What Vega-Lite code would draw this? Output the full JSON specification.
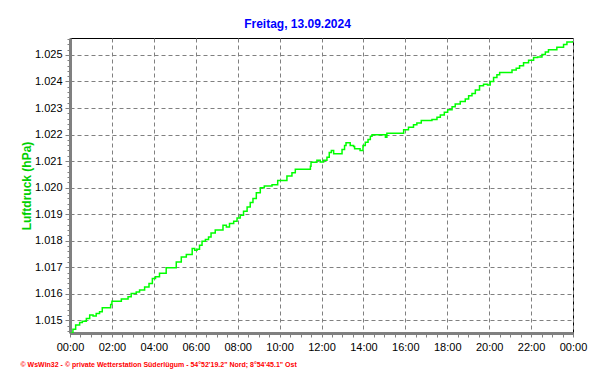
{
  "$schema": "https://vega.github.io/schema/vega-lite/v6.json",
  "width": 503,
  "height": 295,
  "autosize": {"type": "none"},
  "padding": {"left": 70, "top": 38, "right": 19, "bottom": 51},
  "background": "white",
  "config": {
    "view": {"stroke": "black", "strokeWidth": 1},
    "font": "Liberation Sans"
  },
  "title": {
    "text": "Freitag, 13.09.2024",
    "color": "#0000ff",
    "font": "Liberation Sans",
    "fontSize": 12,
    "fontWeight": "bold",
    "anchor": "middle",
    "frame": "group",
    "baseline": "bottom",
    "offset": 9,
    "dx": -24,
    "dy": 19
  },
  "data": {
    "values": [
      {"hour": 0.00, "hPa": 1.01451},
      {"hour": 0.14, "hPa": 1.01466},
      {"hour": 0.27, "hPa": 1.01482},
      {"hour": 0.46, "hPa": 1.01492},
      {"hour": 0.59, "hPa": 1.01497},
      {"hour": 0.78, "hPa": 1.01507},
      {"hour": 0.94, "hPa": 1.01520},
      {"hour": 1.10, "hPa": 1.01516},
      {"hour": 1.25, "hPa": 1.01526},
      {"hour": 1.41, "hPa": 1.01532},
      {"hour": 1.54, "hPa": 1.01547},
      {"hour": 1.89, "hPa": 1.01547},
      {"hour": 1.94, "hPa": 1.01560},
      {"hour": 2.00, "hPa": 1.01572},
      {"hour": 2.37, "hPa": 1.01572},
      {"hour": 2.45, "hPa": 1.01580},
      {"hour": 2.77, "hPa": 1.01589},
      {"hour": 2.92, "hPa": 1.01601},
      {"hour": 3.16, "hPa": 1.01607},
      {"hour": 3.32, "hPa": 1.01614},
      {"hour": 3.56, "hPa": 1.01626},
      {"hour": 3.77, "hPa": 1.01639},
      {"hour": 3.93, "hPa": 1.01658},
      {"hour": 4.08, "hPa": 1.01664},
      {"hour": 4.27, "hPa": 1.01677},
      {"hour": 4.59, "hPa": 1.01698},
      {"hour": 4.91, "hPa": 1.01698},
      {"hour": 5.07, "hPa": 1.01720},
      {"hour": 5.31, "hPa": 1.01739},
      {"hour": 5.55, "hPa": 1.01748},
      {"hour": 5.83, "hPa": 1.01771},
      {"hour": 5.95, "hPa": 1.01764},
      {"hour": 6.06, "hPa": 1.01768},
      {"hour": 6.18, "hPa": 1.01783},
      {"hour": 6.30, "hPa": 1.01798},
      {"hour": 6.46, "hPa": 1.01805},
      {"hour": 6.61, "hPa": 1.01814},
      {"hour": 6.73, "hPa": 1.01829},
      {"hour": 6.93, "hPa": 1.01840},
      {"hour": 7.17, "hPa": 1.01840},
      {"hour": 7.30, "hPa": 1.01858},
      {"hour": 7.46, "hPa": 1.01852},
      {"hour": 7.61, "hPa": 1.01865},
      {"hour": 7.81, "hPa": 1.01873},
      {"hour": 7.97, "hPa": 1.01886},
      {"hour": 8.12, "hPa": 1.01896},
      {"hour": 8.28, "hPa": 1.01911},
      {"hour": 8.45, "hPa": 1.01927},
      {"hour": 8.60, "hPa": 1.01944},
      {"hour": 8.73, "hPa": 1.01959},
      {"hour": 8.89, "hPa": 1.01981},
      {"hour": 9.08, "hPa": 1.02000},
      {"hour": 9.27, "hPa": 1.02006},
      {"hour": 9.64, "hPa": 1.02011},
      {"hour": 9.91, "hPa": 1.02027},
      {"hour": 10.35, "hPa": 1.02044},
      {"hour": 10.59, "hPa": 1.02056},
      {"hour": 10.75, "hPa": 1.02069},
      {"hour": 11.23, "hPa": 1.02069},
      {"hour": 11.47, "hPa": 1.02081},
      {"hour": 11.50, "hPa": 1.02096},
      {"hour": 11.78, "hPa": 1.02103},
      {"hour": 11.94, "hPa": 1.02097},
      {"hour": 12.10, "hPa": 1.02103},
      {"hour": 12.26, "hPa": 1.02115},
      {"hour": 12.37, "hPa": 1.02132},
      {"hour": 12.47, "hPa": 1.02140},
      {"hour": 12.58, "hPa": 1.02128},
      {"hour": 12.90, "hPa": 1.02128},
      {"hour": 12.98, "hPa": 1.02144},
      {"hour": 13.10, "hPa": 1.02159},
      {"hour": 13.17, "hPa": 1.02169},
      {"hour": 13.29, "hPa": 1.02169},
      {"hour": 13.37, "hPa": 1.02159},
      {"hour": 13.53, "hPa": 1.02155},
      {"hour": 13.58, "hPa": 1.02147},
      {"hour": 13.77, "hPa": 1.02147},
      {"hour": 13.84, "hPa": 1.02140},
      {"hour": 13.98, "hPa": 1.02159},
      {"hour": 14.09, "hPa": 1.02171},
      {"hour": 14.22, "hPa": 1.02181},
      {"hour": 14.33, "hPa": 1.02194},
      {"hour": 14.41, "hPa": 1.02199},
      {"hour": 14.89, "hPa": 1.02199},
      {"hour": 15.05, "hPa": 1.02190},
      {"hour": 15.12, "hPa": 1.02205},
      {"hour": 15.76, "hPa": 1.02205},
      {"hour": 15.92, "hPa": 1.02218},
      {"hour": 16.15, "hPa": 1.02228},
      {"hour": 16.39, "hPa": 1.02237},
      {"hour": 16.55, "hPa": 1.02244},
      {"hour": 16.76, "hPa": 1.02253},
      {"hour": 17.27, "hPa": 1.02257},
      {"hour": 17.51, "hPa": 1.02265},
      {"hour": 17.67, "hPa": 1.02274},
      {"hour": 17.86, "hPa": 1.02284},
      {"hour": 18.02, "hPa": 1.02294},
      {"hour": 18.23, "hPa": 1.02305},
      {"hour": 18.38, "hPa": 1.02315},
      {"hour": 18.62, "hPa": 1.02325},
      {"hour": 18.86, "hPa": 1.02334},
      {"hour": 19.02, "hPa": 1.02346},
      {"hour": 19.18, "hPa": 1.02355},
      {"hour": 19.34, "hPa": 1.02368},
      {"hour": 19.54, "hPa": 1.02384},
      {"hour": 19.73, "hPa": 1.02390},
      {"hour": 19.92, "hPa": 1.02387},
      {"hour": 20.05, "hPa": 1.02400},
      {"hour": 20.21, "hPa": 1.02415},
      {"hour": 20.37, "hPa": 1.02425},
      {"hour": 20.50, "hPa": 1.02434},
      {"hour": 21.00, "hPa": 1.02434},
      {"hour": 21.09, "hPa": 1.02443},
      {"hour": 21.29, "hPa": 1.02450},
      {"hour": 21.45, "hPa": 1.02459},
      {"hour": 21.64, "hPa": 1.02471},
      {"hour": 21.88, "hPa": 1.02480},
      {"hour": 22.12, "hPa": 1.02490},
      {"hour": 22.31, "hPa": 1.02492},
      {"hour": 22.52, "hPa": 1.02502},
      {"hour": 22.68, "hPa": 1.02511},
      {"hour": 22.83, "hPa": 1.02520},
      {"hour": 23.23, "hPa": 1.02529},
      {"hour": 23.55, "hPa": 1.02539},
      {"hour": 23.71, "hPa": 1.02549},
      {"hour": 24.00, "hPa": 1.02553}
    ]
  },
  "mark": {"type": "line", "color": "#00ff00", "strokeWidth": 1.5, "interpolate": "step-after", "clip": true},
  "encoding": {
    "x": {
      "field": "hour",
      "type": "quantitative",
      "scale": {"domain": [0, 24], "nice": false, "zero": false},
      "axis": {
        "title": "© WsWin32  -  © private Wetterstation Süderlügum  -  54°52'19.2\" Nord; 8°54'45.1\" Ost",
        "titleColor": "#ff0000",
        "titleFont": "Liberation Sans",
        "titleFontSize": 7,
        "titleFontWeight": "bold",
        "titleAnchor": "start",
        "titleAlign": "left",
        "titleBaseline": "middle",
        "titleX": -50,
        "titleY": 31,
        "values": [0,0.5,1,1.5,2,2.5,3,3.5,4,4.5,5,5.5,6,6.5,7,7.5,8,8.5,9,9.5,10,10.5,11,11.5,12,12.5,13,13.5,14,14.5,15,15.5,16,16.5,17,17.5,18,18.5,19,19.5,20,20.5,21,21.5,22,22.5,23,23.5,24],
        "labelExpr": "datum.value % 2 == 0 ? ((datum.value % 24 < 10 ? '0' : '') + (datum.value % 24) + ':00') : ''",
        "labelOverlap": false,
        "labelFlush": false,
        "labelFont": "Liberation Sans",
        "labelFontSize": 11,
        "labelColor": "black",
        "labelPadding": 4,
        "domainColor": "#808080",
        "domainWidth": 3,
        "tickColor": "#808080",
        "tickSize": 4,
        "tickWidth": 1,
        "grid": true,
        "gridColor": "#808080",
        "gridDash": [4, 3],
        "gridWidth": 1,
        "gridOpacity": {"condition": {"test": "datum.value % 2 == 0", "value": 1}, "value": 0}
      }
    },
    "y": {
      "field": "hPa",
      "type": "quantitative",
      "scale": {"domain": [1.014523, 1.025639], "nice": false, "zero": false},
      "axis": {
        "title": "Luftdruck (hPa)",
        "titleColor": "#00d000",
        "titleFont": "Liberation Sans",
        "titleFontSize": 12,
        "titleFontWeight": "bold",
        "titlePadding": 1,
        "values": [1.0146,1.0148,1.015,1.0152,1.0154,1.0156,1.0158,1.016,1.0162,1.0164,1.0166,1.0168,1.017,1.0172,1.0174,1.0176,1.0178,1.018,1.0182,1.0184,1.0186,1.0188,1.019,1.0192,1.0194,1.0196,1.0198,1.02,1.0202,1.0204,1.0206,1.0208,1.021,1.0212,1.0214,1.0216,1.0218,1.022,1.0222,1.0224,1.0226,1.0228,1.023,1.0232,1.0234,1.0236,1.0238,1.024,1.0242,1.0244,1.0246,1.0248,1.025,1.0252,1.0254,1.0256],
        "labelExpr": "abs(datum.value * 1000 - round(datum.value * 1000)) < 0.01 ? format(datum.value, '.3f') : ''",
        "labelOverlap": false,
        "labelFlush": false,
        "labelFont": "Liberation Sans",
        "labelFontSize": 11,
        "labelColor": "black",
        "labelPadding": 3,
        "domainColor": "#808080",
        "domainWidth": 3,
        "tickColor": "#808080",
        "tickSize": {"condition": {"test": "abs(datum.value * 1000 - round(datum.value * 1000)) < 0.01", "value": 5}, "value": 3},
        "tickWidth": 1,
        "grid": true,
        "gridColor": "#808080",
        "gridDash": [4, 3],
        "gridWidth": 1,
        "gridOpacity": {"condition": {"test": "abs(datum.value * 1000 - round(datum.value * 1000)) < 0.01", "value": 1}, "value": 0}
      }
    }
  }
}
